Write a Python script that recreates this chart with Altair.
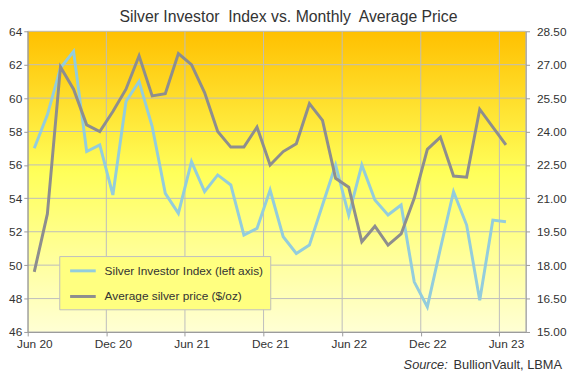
import altair as alt
import pandas as pd

# ---------------- data ----------------
months = ["2020-06", "2020-07", "2020-08", "2020-09", "2020-10", "2020-11", "2020-12",
          "2021-01", "2021-02", "2021-03", "2021-04", "2021-05", "2021-06", "2021-07",
          "2021-08", "2021-09", "2021-10", "2021-11", "2021-12", "2022-01", "2022-02",
          "2022-03", "2022-04", "2022-05", "2022-06", "2022-07", "2022-08", "2022-09",
          "2022-10", "2022-11", "2022-12", "2023-01", "2023-02", "2023-03", "2023-04",
          "2023-05", "2023-06"]
investor_index = [57.0, 59.0, 61.8, 62.8, 56.8, 57.2, 54.2, 59.8, 61.0, 58.3, 54.3, 53.1,
                  56.2, 54.4, 55.4, 54.8, 51.8, 52.2, 54.5, 51.7, 50.7, 51.2, 53.6, 56.0,
                  53.0, 56.0, 53.9, 53.0, 53.6, 49.0, 47.5, 51.0, 54.4, 52.4, 47.9, 52.7, 52.6]
silver_price = [17.7, 20.3, 26.9, 25.9, 24.3, 24.0, 24.9, 25.9, 27.4, 25.6, 25.7, 27.5,
                27.0, 25.75, 24.0, 23.3, 23.3, 24.2, 22.5, 23.1, 23.45, 25.25, 24.5, 21.9,
                21.5, 19.05, 19.75, 18.9, 19.4, 21.0, 23.2, 23.75, 22.0, 21.95, 25.0, 24.2, 23.4]
series_names = ["Silver Investor Index (left axis)", "Average silver price ($/oz)"]
x_tick_labels = ["Jun 20", "Dec 20", "Jun 21", "Dec 21", "Jun 22", "Dec 22", "Jun 23"]
left_ticks = [46, 48, 50, 52, 54, 56, 58, 60, 62, 64]
right_ticks = [15.0, 16.5, 18.0, 19.5, 21.0, 22.5, 24.0, 25.5, 27.0, 28.5]
title_text = "Silver Investor\u00a0 Index vs. Monthly\u00a0 Average Price"
source_label = "Source:"
source_text = "BullionVault, LBMA"

# ---------------- styling ----------------
W, H = 505, 305
FONT = "Liberation Sans"
TXT = "#333333"
GRID = "#BDBDBD"
AXC = "#9A9A9A"
BLUE = "#93CDDD"
GRAY = "#8E8E8E"

n_months = len(months) + 1  # axis runs to the end of the month after the last point
pos = [i + 0.5 for i in range(len(months))]
tick_pos = [6 * k for k in range(len(x_tick_labels))]

df_idx = pd.DataFrame({"pos": pos, "value": investor_index, "series": series_names[0], "month": months})
df_px = pd.DataFrame({"pos": pos, "value": silver_price, "series": series_names[1], "month": months})

xscale = alt.Scale(domain=[0, n_months], nice=False, zero=False)
yl_scale = alt.Scale(domain=[left_ticks[0], left_ticks[-1]], nice=False, zero=False)
yr_scale = alt.Scale(domain=[right_ticks[0], right_ticks[-1]], nice=False, zero=False)
color_scale = alt.Scale(domain=series_names, range=[BLUE, GRAY])

label_expr = ""
for p, s in zip(tick_pos, x_tick_labels):
    label_expr += "datum.value == %d ? '%s' : " % (p, s)
label_expr += "''"

x_axis = alt.Axis(values=tick_pos, labelExpr=label_expr, title=None, grid=False,
                  domainColor=AXC, tickColor=AXC, tickSize=4, labelOffset=6.67, labelFlush=False,
                  labelFont=FONT, labelFontSize=12, labelColor=TXT, labelPadding=3, zindex=1)
left_axis = alt.Axis(values=left_ticks, title=None, grid=False, domainColor=AXC, tickColor=AXC,
                     tickSize=4, labelFont=FONT, labelFontSize=12, labelColor=TXT,
                     labelPadding=2, zindex=1)
right_axis = alt.Axis(values=right_ticks, format=".2f", orient="right", title=None, grid=False,
                      domainColor=AXC, tickColor=AXC, tickSize=4, labelFont=FONT,
                      labelFontSize=12, labelColor=TXT, labelPadding=7, zindex=1)

# short legend line: path of 4 units scaled by sqrt(size)/2 = 6.5 -> 26 px
legend = alt.Legend(title=None, orient="none", legendX=32, legendY=228, fillColor="#FFFF80",
                    strokeColor="#BFBFBF", padding=7, symbolType="M-2,0H2", symbolStrokeWidth=3,
                    symbolSize=169, labelFont=FONT, labelFontSize=12, labelColor=TXT,
                    labelLimit=400, rowPadding=12, symbolOffset=9, labelOffset=14,
                    labelExpr="datum.label + '\u00a0\u00a0\u00a0'")

bg = alt.Chart(alt.Data(values=[{}])).mark_rect(
    color=alt.Gradient(gradient="linear", x1=0, x2=0, y1=0, y2=1,
                       stops=[alt.GradientStop(offset=0, color="#FFC000"),
                              alt.GradientStop(offset=0.47, color="#FFFF5A"),
                              alt.GradientStop(offset=1, color="#FFFFD4")])
).encode(x=alt.value(0), x2=alt.value(W), y=alt.value(0), y2=alt.value(H))

xgrid = alt.Chart(pd.DataFrame({"pos": tick_pos})).mark_rule(color=GRID, strokeWidth=1).encode(
    x=alt.X("pos:Q", scale=xscale, axis=x_axis))
ygrid = alt.Chart(pd.DataFrame({"v": left_ticks})).mark_rule(color=GRID, strokeWidth=1).encode(
    y=alt.Y("v:Q", scale=yl_scale, axis=None))

line_idx = alt.Chart(df_idx).mark_line(strokeWidth=3).encode(
    x=alt.X("pos:Q", scale=xscale, axis=x_axis),
    y=alt.Y("value:Q", scale=yl_scale, axis=left_axis),
    color=alt.Color("series:N", scale=color_scale, legend=legend),
)
line_px = alt.Chart(df_px).mark_line(strokeWidth=3).encode(
    x=alt.X("pos:Q", scale=xscale, axis=x_axis),
    y=alt.Y("value:Q", scale=yr_scale, axis=right_axis),
    color=alt.Color("series:N", scale=color_scale, legend=legend),
)

src1 = alt.Chart(alt.Data(values=[{"t": source_label}])).mark_text(
    align="right", baseline="alphabetic", font=FONT, fontSize=13, fontStyle="italic", color=TXT
).encode(text="t:N", x=alt.value(426), y=alt.value(343))
src2 = alt.Chart(alt.Data(values=[{"t": source_text}])).mark_text(
    align="right", baseline="alphabetic", font=FONT, fontSize=13, color=TXT
).encode(text="t:N", x=alt.value(542), y=alt.value(343))

chart = alt.layer(bg, xgrid, ygrid, line_idx, line_px, src1, src2).resolve_scale(
    y="independent"
).properties(
    width=W, height=H,
    padding={"left": 20, "top": 21, "right": 42, "bottom": 39},
    autosize=alt.AutoSizeParams(type="none"),
    title=alt.TitleParams(text=title_text, font=FONT, fontSize=16, fontWeight="normal",
                          color=TXT, anchor="middle", offset=0, dx=12),
).configure_view(stroke="#A6A6A6", strokeWidth=1)

chart.save("out.html", embed_options={"renderer": "svg", "actions": False})
